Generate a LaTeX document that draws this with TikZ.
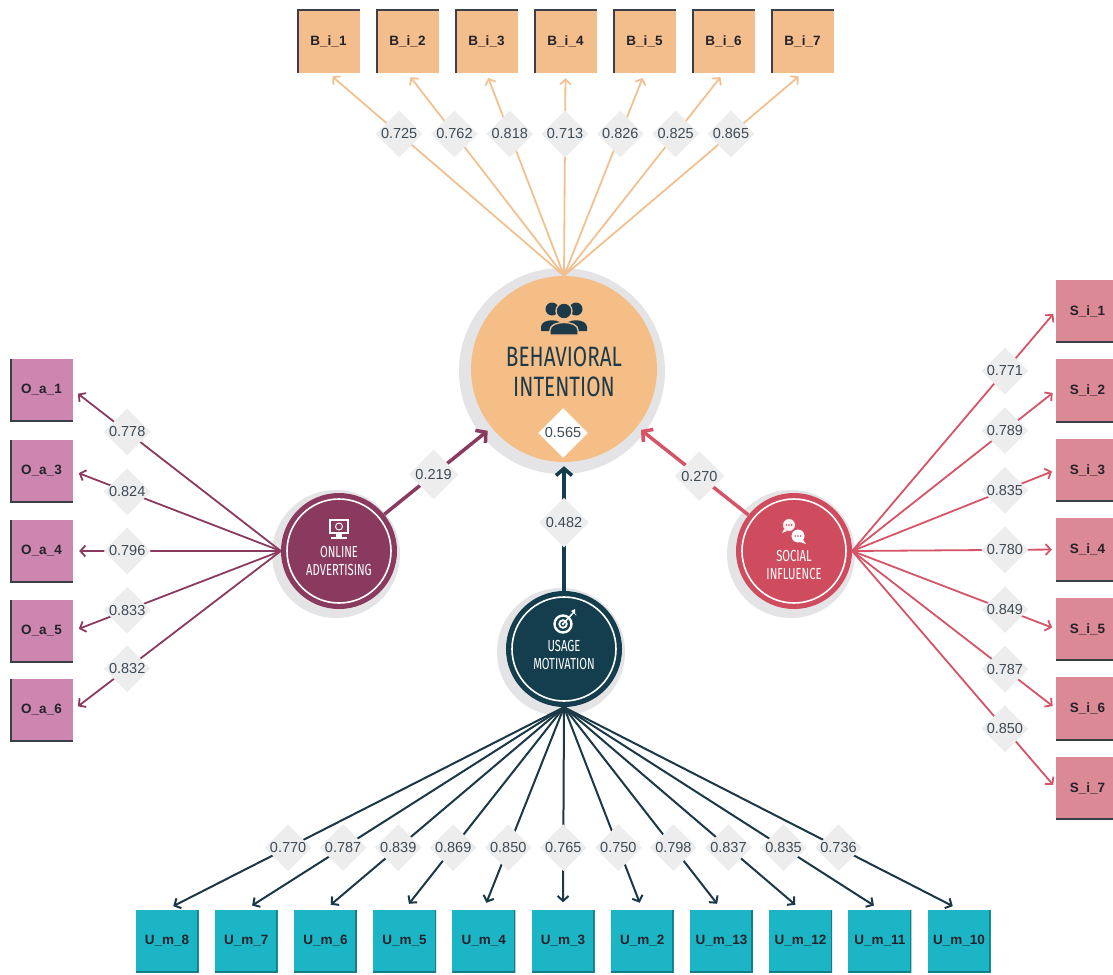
\documentclass[tikz,border=0pt]{standalone}
\usepackage{fontspec}
\setmainfont{Liberation Sans}
\newfontfamily\condfont[FakeStretch=0.74]{Fira Sans}
\newfontfamily\smallcondfont[FakeStretch=0.7]{Fira Sans}
\usetikzlibrary{arrows.meta,shapes.geometric,calc}
\definecolor{bfill}{HTML}{F4BE8C}
\definecolor{bline}{HTML}{F2C191}
\definecolor{bicol}{HTML}{F5BE87}
\definecolor{ofill}{HTML}{CC86B0}
\definecolor{ocol}{HTML}{8A3A5E}
\definecolor{sfill}{HTML}{DB8A95}
\definecolor{scol}{HTML}{CF4C5E}
\definecolor{sline}{HTML}{D55467}
\definecolor{ufill}{HTML}{1BB5C6}
\definecolor{ucol}{HTML}{143E4E}
\definecolor{uline}{HTML}{1B3846}
\definecolor{navy}{HTML}{1D3A4A}
\definecolor{edgedark}{HTML}{3B3F4A}
\definecolor{udark}{HTML}{127E8A}
\definecolor{halo}{HTML}{E4E4E6}
\definecolor{diagrey}{HTML}{EDEDED}
\definecolor{labtext}{HTML}{3D4B57}
\definecolor{boxtext}{HTML}{23232B}
\begin{document}
\begin{tikzpicture}[x=1pt,y=-1pt,
  ibox/.style={rectangle, minimum size=63pt, inner sep=0pt, font=\bfseries\fontsize{13.5}{15}\selectfont, text=boxtext},
  bbox/.style={ibox, fill=bfill, path picture={\draw[line width=3pt,edgedark] (path picture bounding box.south west) -- (path picture bounding box.north west) -- (path picture bounding box.north east);}},
  obox/.style={ibox, fill=ofill, path picture={\draw[line width=3pt,edgedark] (path picture bounding box.north west) -- (path picture bounding box.south west) -- (path picture bounding box.south east);}},
  sbox/.style={ibox, fill=sfill, path picture={\draw[line width=3pt,edgedark] (path picture bounding box.south west) -- (path picture bounding box.south east);}},
  ubox/.style={ibox, fill=ufill, path picture={\draw[line width=3pt,udark] (path picture bounding box.north east) -- (path picture bounding box.south east) -- (path picture bounding box.south west);}},
  dia/.style={rectangle, rotate=45, fill=diagrey, minimum size=33pt, inner sep=0pt},
  bigdia/.style={dia, minimum size=35pt},
  lbl/.style={inner sep=0pt, text=labtext, font=\fontsize{14.5}{16}\selectfont},
  ind/.style={line width=1.8pt, -{Straight Barb[length=5pt,width=11pt]}},
  path/.style={line width=3.5pt, -{Straight Barb[length=7pt,width=16pt]}},
  lat/.style={circle, inner sep=0pt, minimum size=116pt},
  ring/.style={draw=white, line width=1.6pt},
  smalltext/.style={text=white, align=center, font=\smallcondfont\fontsize{16}{18}\selectfont}
]
\useasboundingbox (0,0) rectangle (1113,974);
\fill[white] (0,0) rectangle (1113,974);

% halos
\fill[halo] (562,371) circle[radius=103pt];
\fill[halo] (336,554) circle[radius=64pt];
\fill[halo] (791,554) circle[radius=64pt];
\fill[halo] (561,652) circle[radius=64pt];

% latent circles
\node[circle, inner sep=0pt, minimum size=186pt, fill=bicol] (bi) at (564,369) {};
\node[lat, fill=ocol] (oa) at (339,551) {};
\node[lat, fill=scol] (si) at (794,551) {};
\node[lat, fill=ucol] (um) at (564,649) {};
\draw[ring] (oa) circle[radius=52pt];
\draw[ring] (si) circle[radius=52pt];
\draw[ring] (um) circle[radius=52pt];

% texts in circles
\node[text=navy, align=center, font=\condfont\fontsize{28}{30}\selectfont] (bitext) at (564,372) {BEHAVIORAL\\INTENTION};
\node[smalltext] (oatext) at (339,561) {ONLINE\\ADVERTISING};
\node[smalltext] (sitext) at (794,565) {SOCIAL\\INFLUENCE};
\node[smalltext] (umtext) at (564,655) {USAGE\\MOTIVATION};

% icon: people
\fill[navy] (552,309) circle[radius=6.5pt];
\fill[navy] (541,331) -- (541,327) .. controls (541,318) and (563,318) .. (563,327) -- (563,331) -- cycle;
\fill[navy] (576,309) circle[radius=6.5pt];
\fill[navy] (565,331) -- (565,327) .. controls (565,318) and (587,318) .. (587,327) -- (587,331) -- cycle;
\filldraw[fill=navy, draw=bicol, line width=1.3pt] (550,335) -- (550,330) .. controls (550,320) and (578,320) .. (578,330) -- (578,335) -- cycle;
\filldraw[fill=navy, draw=bicol, line width=1.3pt] (564,311) circle[radius=8pt];

% icon: monitor
\draw[white, line width=1.4pt] (330,520) rectangle (348,533);
\draw[white, line width=1pt] (339,526.5) circle[radius=3.5pt];
\fill[white] (336,533) rectangle (342,536.5);
\fill[white] (331,536.5) rectangle (347,538.5);

% icon: target
\draw[white, line width=2.4pt] (563,624) circle[radius=8.5pt];
\draw[white, line width=1.8pt] (563,624) circle[radius=3.8pt];
\fill[white] (563,624) circle[radius=1.3pt];
\draw[white, line width=1.5pt] (563,624) -- (573,613);
\fill[white] (573,613) -- (571,611) -- (575,609) -- (575,615) -- (577,615) -- cycle;

% icon: chat bubbles
\filldraw[fill=white!92!scol, draw=scol, line width=0.8pt] (789,525) circle[radius=6.5pt];
\fill[white!92!scol] (784,529) -- (782,533) -- (787,531) -- cycle;
\foreach \dx in {-2.6,0,2.6} \fill[scol] (789+\dx,525) circle[radius=0.9pt];
\filldraw[fill=white, draw=scol, line width=0.8pt] (798,536) circle[radius=7pt];
\fill[white] (803,540) -- (806,544) -- (800,542) -- cycle;
\foreach \dx in {-2.8,0,2.8} \fill[scol] (798+\dx,536) circle[radius=0.9pt];

% indicator boxes
\foreach \i in {1,...,7} \node[bbox] (b\i) at ({328.5+79*(\i-1)},41.5) {B\_i\_\i};
\foreach \i/\y in {1/390,3/471,4/551,5/631,6/710} \node[obox] (o\i) at (41.5,\y) {O\_a\_\i};
\foreach \i in {1,...,7} \node[sbox] (s\i) at (1087.5,{311+79.5*(\i-1)}) {S\_i\_\i};
\foreach \k/\n in {0/8,1/7,2/6,3/5,4/4,5/3,6/2,7/13,8/12,9/11,10/10} \node[ubox] (u\n) at ({167+79.2*\k},941) {U\_m\_\n};

% structural paths
\draw[path, draw=ocol, shorten >=5pt] (oa) -- node[pos=.46,bigdia] (d219) {} node[pos=.46,lbl] (l219) {0.219} (bi);
\draw[path, draw=sline, shorten >=5pt] (si) -- node[pos=.44,bigdia] (d270) {} node[pos=.44,lbl] (l270) {0.270} (bi);
\draw[path, draw=ucol, shorten >=4pt] (um) -- node[pos=.53,bigdia] (d482) {} node[pos=.53,lbl] (l482) {0.482} (bi);
\node[bigdia, fill=white] (d565) at (563,433) {};
\node[lbl] (l565) at (563,433) {0.565};

% indicator lines
\foreach \i/\v in {1/0.725,2/0.762,3/0.818,4/0.713,5/0.826,6/0.825,7/0.865}
  \draw[ind, draw=bline, shorten >=5pt] (bi.north) -- node[pos=.70,dia] (db\i) {} node[pos=.70,lbl] (lb\i) {\v} (b\i.south);
\foreach \i/\v in {1/0.778,3/0.824,4/0.796,5/0.833,6/0.832}
  \draw[ind, draw=ocol, shorten >=6pt] (oa.west) -- node[pos=.74,dia] (do\i) {} node[pos=.74,lbl] (lo\i) {\v} (o\i.east);
\foreach \i/\v in {1/0.771,2/0.789,3/0.835,4/0.780,5/0.849,6/0.787,7/0.850}
  \draw[ind, draw=sline, shorten >=4pt] (si.east) -- node[pos=.75,dia] (ds\i) {} node[pos=.75,lbl] (ls\i) {\v} (s\i.west);
\foreach \n/\v in {8/0.770,7/0.787,6/0.839,5/0.869,4/0.850,3/0.765,2/0.750,13/0.798,12/0.837,11/0.835,10/0.736}
  \draw[ind, line width=2pt, draw=uline, shorten >=7pt] (um.south) -- node[pos=.695,dia] (du\n) {} node[pos=.695,lbl] (lu\n) {\v} (u\n.north);
\end{tikzpicture}
\end{document}
